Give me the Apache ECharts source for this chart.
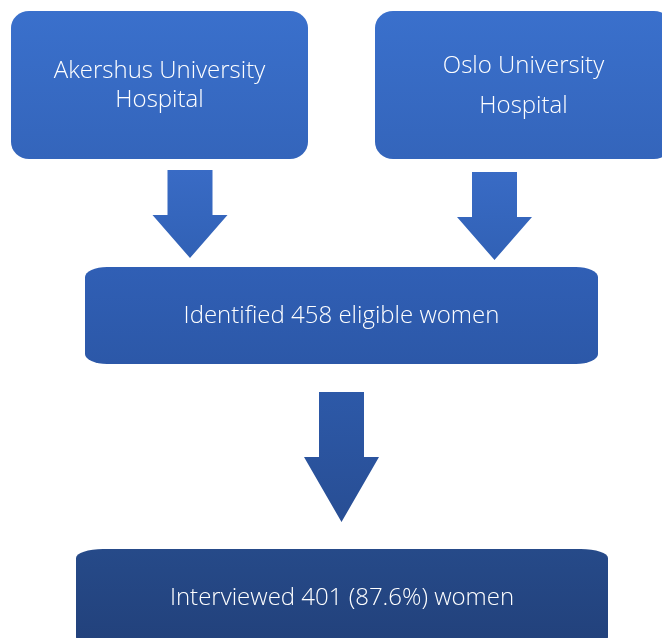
<!DOCTYPE html>
<html>
<head>
<meta charset="utf-8">
<script src="https://cdn.jsdelivr.net/npm/echarts@6/dist/echarts.min.js"></script>
<style>
html,body{margin:0;padding:0;background:#fff;}
#chartmain{width:662px;height:638px;}
</style>
</head>
<body>
<div id="chartmain"></div>
<script>
// box texts and their extents (chart units)
var boxLabels = ['Akershus University\nHospital', 'Oslo University\nHospital', 'Identified 458 eligible women', 'Interviewed 401 (87.6%) women'];
var boxLeft = [11, 375, 85, 76];
var boxRight = [308, 672, 598, 608];
var boxTop = [11, 11, 267, 549];
var boxBottom = [159, 159, 364, 646];

// arrows: centre x, top of shaft, start of head, tip
var arrowX = [190, 494.5, 341.5];
var arrowTop = [170, 172, 392];
var arrowNeck = [215, 217, 457];
var arrowTip = [258, 260, 522];

// look of each box
var boxStyle = [
  {rx: 18, ry: 17, c0: '#3a70cc', c1: '#3465bb', lh: 29, dy: 1},
  {rx: 18, ry: 17, c0: '#3a70cc', c1: '#3465bb', lh: 40, dy: 1},
  {rx: 22, ry: 10, c0: '#305fb5', c1: '#2c58a8', lh: 28, dy: 1},
  {rx: 27, ry: 9, c0: '#264a89', c1: '#22417b', lh: 28, dy: 1}
];
var arrowStyle = [
  {c0: '#396bc5', c1: '#3161b5'},
  {c0: '#396bc5', c1: '#3161b5'},
  {c0: '#2d59a8', c1: '#284e94'}
];
var shaftHalf = 22.5;
var headHalf = 37.5;
var labelFont = '300 24px "Open Sans"';

function grad(c0, c1){
  return new echarts.graphic.LinearGradient(0, 0, 0, 1, [
    {offset: 0, color: c0},
    {offset: 1, color: c1}
  ]);
}

function roundedPath(x0, y0, x1, y1, rx, ry){
  return 'M' + (x0 + rx) + ' ' + y0 +
    ' L' + (x1 - rx) + ' ' + y0 +
    ' A' + rx + ' ' + ry + ' 0 0 1 ' + x1 + ' ' + (y0 + ry) +
    ' L' + x1 + ' ' + (y1 - ry) +
    ' A' + rx + ' ' + ry + ' 0 0 1 ' + (x1 - rx) + ' ' + y1 +
    ' L' + (x0 + rx) + ' ' + y1 +
    ' A' + rx + ' ' + ry + ' 0 0 1 ' + x0 + ' ' + (y1 - ry) +
    ' L' + x0 + ' ' + (y0 + ry) +
    ' A' + rx + ' ' + ry + ' 0 0 1 ' + (x0 + rx) + ' ' + y0 + ' Z';
}

function renderBox(params, api){
  var i = params.dataIndex;
  var p0 = api.coord([api.value(0), api.value(1)]);
  var p1 = api.coord([api.value(2), api.value(3)]);
  var s = boxStyle[i];
  return {
    type: 'group',
    children: [
      {
        type: 'path',
        shape: {pathData: roundedPath(p0[0], p0[1], p1[0], p1[1], s.rx, s.ry)},
        style: {fill: grad(s.c0, s.c1)}
      },
      {
        type: 'text',
        style: {
          text: boxLabels[i],
          x: (p0[0] + p1[0]) / 2,
          y: (p0[1] + p1[1]) / 2 + s.dy,
          align: 'center',
          verticalAlign: 'middle',
          fill: '#ffffff',
          font: labelFont,
          lineHeight: s.lh
        }
      }
    ]
  };
}

function renderArrow(params, api){
  var i = params.dataIndex;
  var cx = api.value(0);
  var top = api.coord([cx, api.value(1)])[1];
  var neck = api.coord([cx, api.value(2)])[1];
  var tip = api.coord([cx, api.value(3)]);
  var x = tip[0];
  var s = arrowStyle[i];
  return {
    type: 'polygon',
    shape: {points: [
      [x - shaftHalf, top], [x + shaftHalf, top], [x + shaftHalf, neck],
      [x + headHalf, neck], [x, tip[1]], [x - headHalf, neck], [x - shaftHalf, neck]
    ]},
    style: {fill: grad(s.c0, s.c1)}
  };
}

var boxData = boxLabels.map(function(l, i){
  return [boxLeft[i], boxTop[i], boxRight[i], boxBottom[i]];
});
var arrowData = arrowX.map(function(x, i){
  return [x, arrowTop[i], arrowNeck[i], arrowTip[i]];
});

var option = {
  animation: false,
  backgroundColor: '#ffffff',
  grid: {left: 0, right: 0, top: 0, bottom: 0},
  xAxis: {type: 'value', min: 0, max: 662, show: false},
  yAxis: {type: 'value', min: 0, max: 638, inverse: true, show: false},
  series: [
    {
      type: 'custom',
      renderItem: renderBox,
      data: boxData,
      encode: {x: [0, 2], y: [1, 3]},
      clip: true
    },
    {
      type: 'custom',
      renderItem: renderArrow,
      data: arrowData,
      encode: {x: 0, y: [1, 3]},
      clip: true
    }
  ]
};

var chartmain = echarts.init(document.getElementById('chartmain'));
chartmain.setOption(option);
</script>
</body>
</html>
